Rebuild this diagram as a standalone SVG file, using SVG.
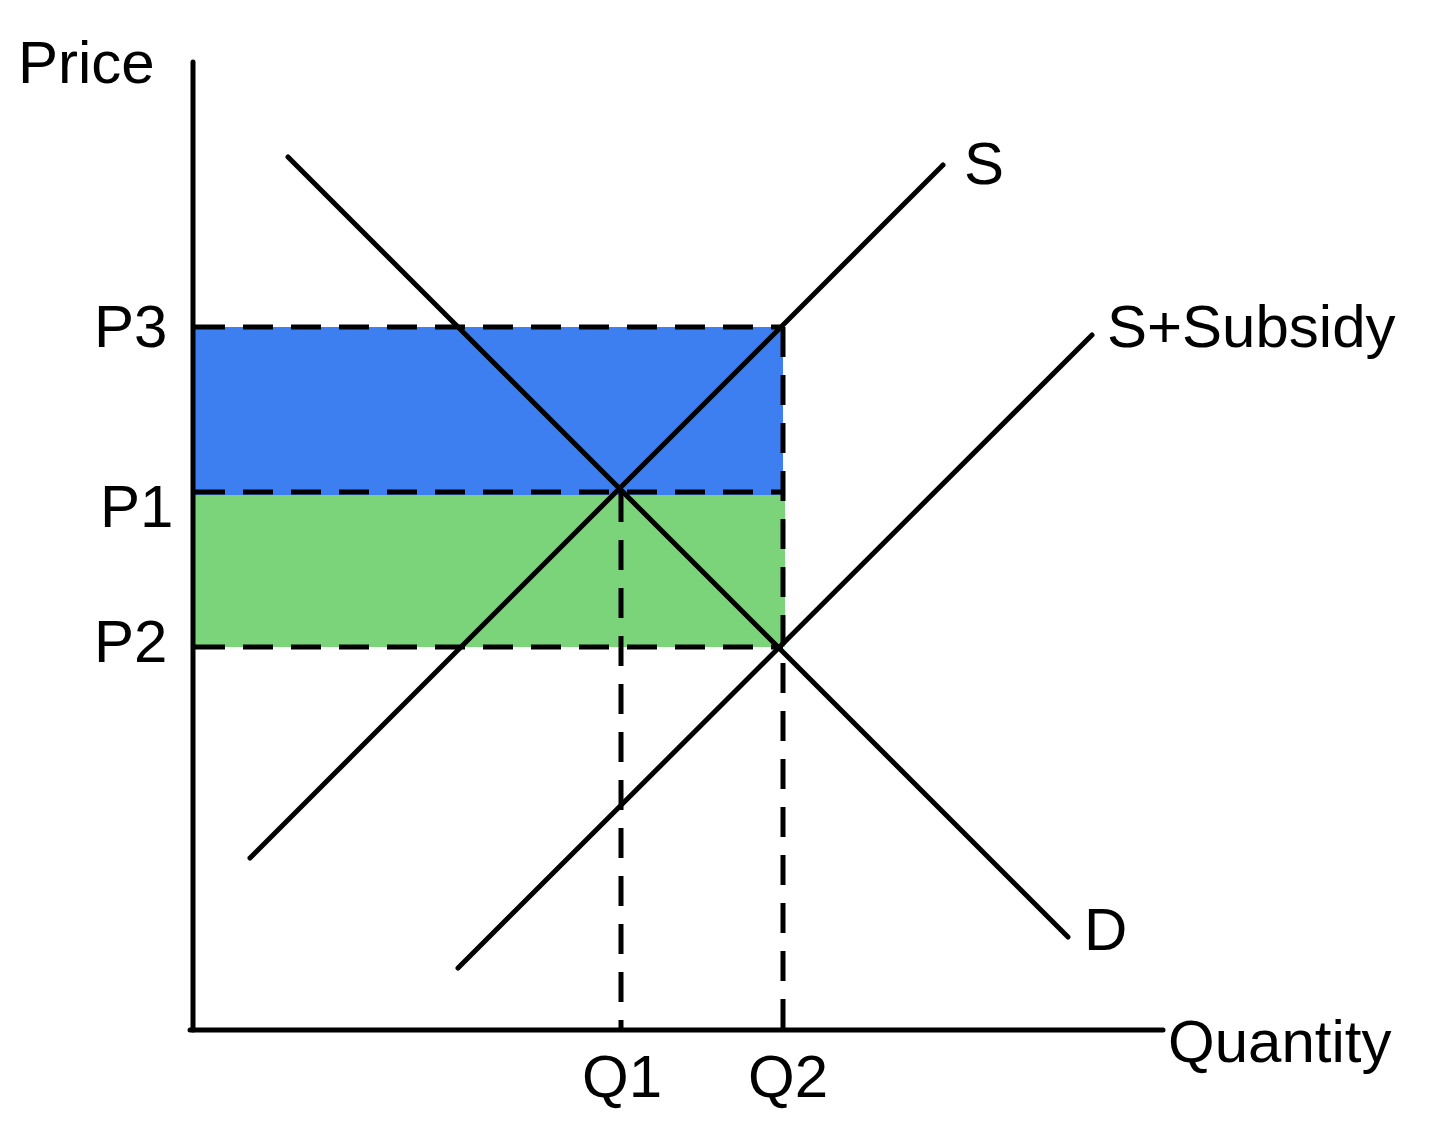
<svg xmlns="http://www.w3.org/2000/svg" width="1452" height="1145" viewBox="0 0 1452 1145">
<style>
.t{font-family:"Liberation Sans",Arial,sans-serif;font-size:60px;fill:#000}
.l{stroke:#000;stroke-width:5;fill:none;stroke-linecap:round}
.d{stroke:#000;stroke-width:5;fill:none;stroke-dasharray:30,18}
</style>
<rect width="1452" height="1145" fill="#fff"/>
<g id="areas">
<rect x="195" y="327" width="588" height="168" fill="#3d7ef0"/>
<rect x="195" y="495" width="590" height="152" fill="#7bd47a"/>
</g>
<g id="connectors">
<line class="d" x1="195" y1="327" x2="783" y2="327"/>
<line class="d" x1="195" y1="492" x2="783" y2="492"/>
<line class="d" x1="195" y1="647" x2="783" y2="647"/>
<line class="d" x1="783" y1="327" x2="783" y2="1030"/>
<line class="d" x1="621" y1="492" x2="621" y2="1030"/>
<line class="l" x1="193" y1="62" x2="193" y2="1030"/>
<line class="l" x1="190" y1="1030" x2="1163" y2="1030"/>
<line class="l" x1="288" y1="157" x2="1068" y2="937"/>
<line class="l" x1="250" y1="858" x2="943" y2="165"/>
<line class="l" x1="458" y1="968" x2="1092" y2="335"/>
</g>
<g id="labels">
<text class="t" x="18" y="83">Price</text>
<text class="t" x="94" y="347">P3</text>
<text class="t" x="100" y="527">P1</text>
<text class="t" x="94" y="662">P2</text>
<text class="t" x="964" y="184">S</text>
<text class="t" x="1107" y="347">S+Subsidy</text>
<text class="t" x="1084" y="950">D</text>
<text class="t" x="1168" y="1062">Quantity</text>
<text class="t" x="622" y="1097" text-anchor="middle">Q1</text>
<text class="t" x="788" y="1097" text-anchor="middle">Q2</text>
</g>
</svg>
